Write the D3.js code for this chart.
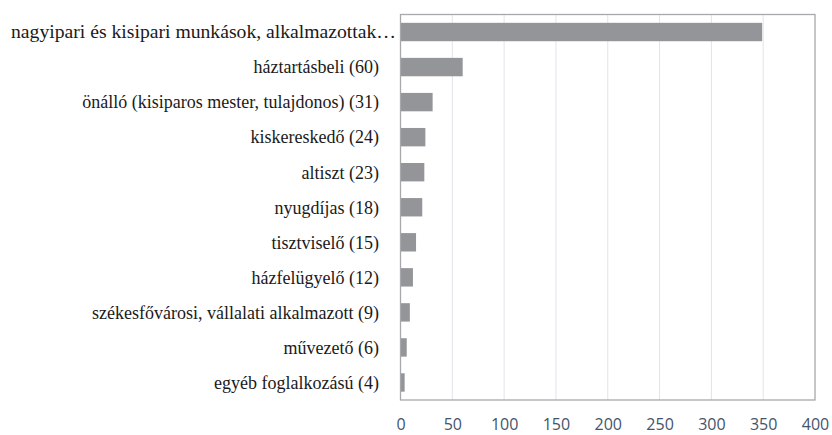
<!DOCTYPE html>
<html>
<head>
<meta charset="utf-8">
<script src="https://cdn.jsdelivr.net/npm/d3@7"></script>
<style>
  body { margin: 0; background: #fff; }
</style>
</head>
<body>
<script>
// categories and values
const categories = [
    "nagyipari és kisipari munkások, alkalmazottak…",
    "háztartásbeli (60)",
    "önálló (kisiparos mester, tulajdonos) (31)",
    "kiskereskedő (24)",
    "altiszt (23)",
    "nyugdíjas (18)",
    "tisztviselő (15)",
    "házfelügyelő (12)",
    "székesfővárosi, vállalati alkalmazott (9)",
    "művezető (6)",
    "egyéb foglalkozású (4)"
];
const values = [349, 60, 31, 24, 23, 21, 15, 12, 9, 6, 4];
const xTicks = [0, 50, 100, 150, 200, 250, 300, 350, 400];

const width = 832;
const height = 435;
const plotLeft = 400.5, plotRight = 815, plotTop = 14.5, plotBottom = 400;

const svg = d3.select("body")
    .append("svg")
    .attr("width", width)
    .attr("height", height);

const x = d3.scaleLinear().domain([0, 400]).range([plotLeft, plotRight]);
const y = d3.scaleBand().domain(categories).range([plotTop, plotBottom]).paddingInner(0.475).paddingOuter(0.2375);

// gridlines
svg.append("g")
    .selectAll("line")
    .data(xTicks.slice(1, -1))
    .enter().append("line")
    .attr("x1", d => x(d)).attr("x2", d => x(d))
    .attr("y1", plotTop).attr("y2", plotBottom)
    .style("stroke", "#dfe4ea")
    .style("stroke-width", 1);

// bars
svg.append("g")
    .selectAll("rect")
    .data(values)
    .enter().append("rect")
    .attr("x", x(0))
    .attr("y", (d, i) => y(categories[i]))
    .attr("width", d => x(d) - x(0))
    .attr("height", y.bandwidth())
    .style("fill", "#939598");

// plot frame
svg.append("rect")
    .attr("x", plotLeft).attr("y", plotTop)
    .attr("width", plotRight - plotLeft).attr("height", plotBottom - plotTop)
    .style("fill", "none")
    .style("stroke", "#a7a8ab")
    .style("stroke-width", 1.3);

// category labels (the first one is cut off and runs up to the axis)
const labels = svg.append("g")
    .selectAll("text")
    .data(categories)
    .enter().append("text")
    .attr("y", d => y(d) + y.bandwidth() / 2)
    .attr("dy", "0.35em")
    .style("font-family", "'Liberation Serif', serif")
    .style("font-size", "18px")
    .style("fill", "#1a1a1a")
    .text(d => d);

labels.filter((d, i) => i > 0)
    .attr("x", 379)
    .attr("text-anchor", "end");

labels.filter((d, i) => i === 0)
    .attr("x", 11)
    .attr("text-anchor", "start")
    .attr("textLength", 385)
    .attr("lengthAdjust", "spacingAndGlyphs");

// x axis labels
const xAxis = d3.axisBottom(x).tickValues(xTicks).tickSize(0).tickPadding(19);
const gx = svg.append("g")
    .attr("transform", "translate(0," + plotBottom + ")")
    .call(xAxis);
gx.select(".domain").remove();
gx.selectAll("text")
    .style("font-family", "'Open Sans', sans-serif")
    .style("font-size", "16px")
    .style("fill", "#44546a");
</script>
</body>
</html>
